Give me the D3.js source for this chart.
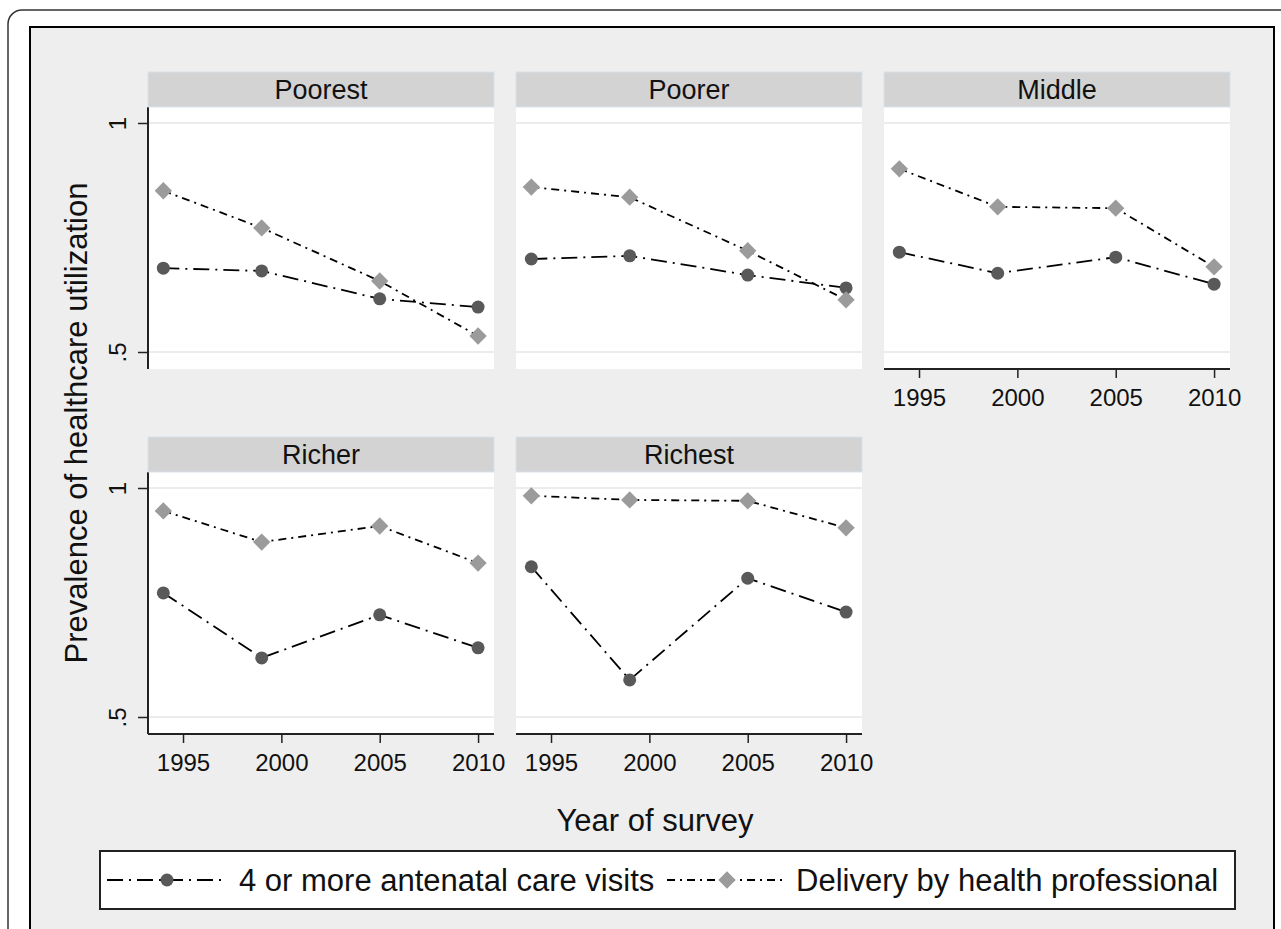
<!DOCTYPE html>
<html>
<head>
<meta charset="utf-8">
<script src="https://cdn.jsdelivr.net/npm/d3@7"></script>
<style>
  body { margin: 0; background: #fff; }
  svg text { font-family: "Liberation Sans", Arial, sans-serif; fill: #111; }
</style>
</head>
<body>
<svg></svg>
<script>
  // values
  var panelNames = ["Poorest", "Poorer", "Middle", "Richer", "Richest"];
  var surveyYears = [1994, 1999, 2005, 2010];
  var ancVisits = [
    [0.683, 0.677, 0.616, 0.598],
    [0.703, 0.710, 0.668, 0.640],
    [0.718, 0.672, 0.707, 0.648],
    [0.771, 0.629, 0.723, 0.651],
    [0.828, 0.581, 0.803, 0.729]
  ];
  var deliveryPro = [
    [0.852, 0.771, 0.655, 0.535],
    [0.860, 0.838, 0.721, 0.614],
    [0.900, 0.817, 0.814, 0.686],
    [0.950, 0.882, 0.917, 0.836],
    [0.983, 0.974, 0.972, 0.913]
  ];
  var xTickValues = [1995, 2000, 2005, 2010];
  var yTickValues = [0.5, 1];
  var seriesNames = ["4 or more antenatal care visits", "Delivery by health professional"];

  var width = 1281, height = 929;
  var colX = [148, 516, 884], rowY = [72, 437];
  var panelW = 346, stripH = 35, plotH = 262;
  var ancDash = "16,6,2,6", delDash = "8,5,2,5";
  var ancFill = "#595959", delFill = "#9b9b9b";

  var svg = d3.select("svg").attr("width", width).attr("height", height);

  // outer frame + graph region
  svg.append("rect").attr("x", 8).attr("y", 10).attr("width", 1300).attr("height", 1000).attr("rx", 14)
    .attr("fill", "#fff").attr("stroke", "#333").attr("stroke-width", 1.5);
  svg.append("rect").attr("x", 30).attr("y", 27).attr("width", 1244).attr("height", 960)
    .attr("fill", "#eeeeee").attr("stroke", "#000").attr("stroke-width", 2);

  var x = d3.scaleLinear().domain([1993.22, 2010.81]).range([0, panelW]);
  var y = d3.scaleLinear().domain([0.5, 1]).range([245, 16]);
  var line = d3.line().x(function(d) { return x(d[0]); }).y(function(d) { return y(d[1]); });

  function drawDiamond(sel, cx, cy) {
    sel.append("path").attr("d", d3.symbol(d3.symbolSquare, 150)())
      .attr("transform", "translate(" + cx + "," + cy + ") rotate(45)").attr("fill", delFill);
  }

  panelNames.forEach(function(name, i) {
    var col = i % 3, row = Math.floor(i / 3);
    var px = colX[col], py = rowY[row];
    var g = svg.append("g").attr("transform", "translate(" + px + "," + (py + stripH) + ")");

    // strip
    svg.append("rect").attr("x", px).attr("y", py).attr("width", panelW).attr("height", stripH)
      .attr("fill", "#d3d3d3").attr("stroke", "#d5e1ea").attr("stroke-width", 1);
    svg.append("text").attr("x", px + panelW / 2).attr("y", py + 27).attr("text-anchor", "middle")
      .style("font-size", "27px").text(name);

    g.append("rect").attr("width", panelW).attr("height", plotH).attr("fill", "#fff");
    g.selectAll(".grid").data(yTickValues).enter().append("line")
      .attr("x1", 0).attr("x2", panelW).attr("y1", y).attr("y2", y)
      .attr("stroke", "#e6e6e6").attr("stroke-width", 1.5);

    if (col == 0) {
      var ya = g.append("g").call(d3.axisLeft(y).tickValues(yTickValues).tickSize(10).tickFormat(function(d) { return d == 1 ? "1" : ".5"; }));
      ya.select(".domain").attr("d", "M0,0V" + plotH).attr("stroke", "#222").attr("stroke-width", 2);
      ya.selectAll(".tick line").attr("stroke", "#222").attr("stroke-width", 1.5);
      ya.selectAll(".tick text").attr("x", null).attr("dy", null).attr("text-anchor", "middle")
        .attr("transform", "translate(-22,0) rotate(-90)").style("font-size", "24px");
    }
    if (i >= 2) {
      var xa = g.append("g").attr("transform", "translate(0," + plotH + ")")
        .call(d3.axisBottom(x).tickValues(xTickValues).tickSize(9).tickFormat(d3.format("d")));
      xa.select(".domain").attr("d", "M0,0H" + panelW).attr("stroke", "#222").attr("stroke-width", 2);
      xa.selectAll(".tick line").attr("stroke", "#222").attr("stroke-width", 1.5);
      xa.selectAll(".tick text").attr("y", 37).attr("dy", null).style("font-size", "24px");
    }

    var ancPts = surveyYears.map(function(yr, k) { return [yr, ancVisits[i][k]]; });
    var delPts = surveyYears.map(function(yr, k) { return [yr, deliveryPro[i][k]]; });

    g.append("path").attr("d", line(ancPts)).attr("fill", "none").attr("stroke", "#000")
      .attr("stroke-width", 1.8).attr("stroke-dasharray", ancDash);
    ancPts.forEach(function(p) {
      g.append("circle").attr("cx", x(p[0])).attr("cy", y(p[1])).attr("r", 6.5).attr("fill", ancFill);
    });
    g.append("path").attr("d", line(delPts)).attr("fill", "none").attr("stroke", "#000")
      .attr("stroke-width", 1.8).attr("stroke-dasharray", delDash);
    delPts.forEach(function(p) { drawDiamond(g, x(p[0]), y(p[1])); });
  });

  // axis titles
  svg.append("text").attr("transform", "translate(87,423) rotate(-90)").attr("text-anchor", "middle")
    .style("font-size", "31px").text("Prevalence of healthcare utilization");
  svg.append("text").attr("x", 655).attr("y", 831).attr("text-anchor", "middle")
    .style("font-size", "31px").text("Year of survey");

  // legend
  var lg = svg.append("g");
  lg.append("rect").attr("x", 100).attr("y", 851).attr("width", 1135).attr("height", 58)
    .attr("fill", "#fff").attr("stroke", "#222").attr("stroke-width", 2);
  var keyCx = [167, 727], textX = [239, 796];
  seriesNames.forEach(function(s, k) {
    lg.append("line").attr("x1", keyCx[k] - 60).attr("x2", keyCx[k] + 60).attr("y1", 880).attr("y2", 880)
      .attr("stroke", "#000").attr("stroke-width", 1.8).attr("stroke-dasharray", k == 0 ? ancDash : delDash);
    if (k == 0) lg.append("circle").attr("cx", keyCx[k]).attr("cy", 880).attr("r", 6.5).attr("fill", ancFill);
    else drawDiamond(lg, keyCx[k], 880);
    lg.append("text").attr("x", textX[k]).attr("y", 891).style("font-size", "31px").text(s);
  });
</script>
</body>
</html>
